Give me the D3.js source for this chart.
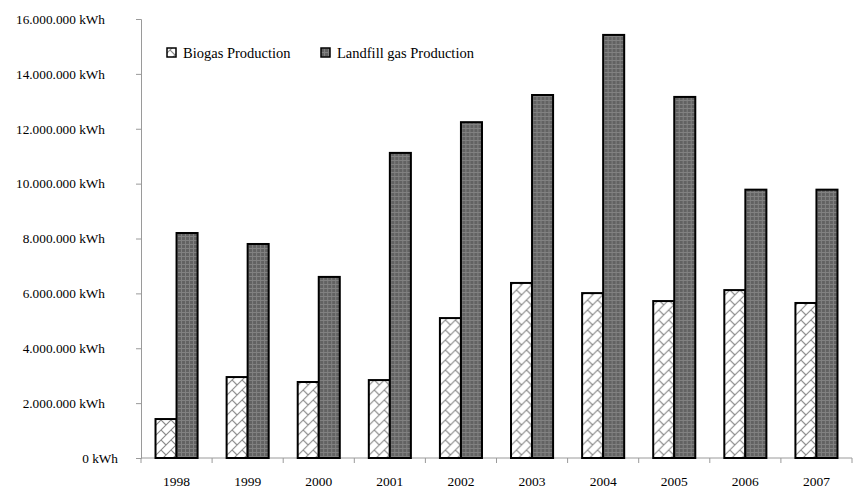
<!DOCTYPE html>
<html>
<head>
<meta charset="utf-8">
<script src="https://cdn.jsdelivr.net/npm/d3@7"></script>
<style>
  html, body { margin: 0; padding: 0; background: #fff; }
  svg text { font-family: "Liberation Serif", "DejaVu Serif", serif; fill: #000; }
</style>
</head>
<body>
<svg id="chart" width="857" height="488"></svg>
<script>
// Annual energy production (kWh)
const years = ["1998", "1999", "2000", "2001", "2002", "2003", "2004", "2005", "2006", "2007"];
const seriesNames = ["Biogas Production", "Landfill gas Production"];
const biogas = [1420000, 2950000, 2770000, 2840000, 5100000, 6380000, 6010000, 5720000, 6120000, 5650000];
const landfill = [8200000, 7800000, 6600000, 11120000, 12240000, 13230000, 15420000, 13160000, 9780000, 9780000];
const yTicks = [0, 2000000, 4000000, 6000000, 8000000, 10000000, 12000000, 14000000, 16000000];

const svg = d3.select("#chart");
const margin = { left: 141, right: 5, top: 19, bottom: 30 };
const W = 857, H = 488;

const x = d3.scaleBand().domain(years).range([margin.left, W - margin.right]).paddingInner(0).paddingOuter(0);
const xs = d3.scaleBand().domain(seriesNames).range([0, x.bandwidth()]).paddingInner(0).paddingOuter(0.69);
const y = d3.scaleLinear().domain([0, 16000000]).range([H - margin.bottom, margin.top]);

const locale = d3.formatLocale({ decimal: ",", thousands: ".", grouping: [3], currency: ["", ""] });
const fmt = locale.format(",");

// Fill patterns
const defs = svg.append("defs");
const pb = defs.append("pattern").attr("id", "brick").attr("patternUnits", "userSpaceOnUse")
  .attr("width", 10).attr("height", 10);
pb.append("rect").attr("width", 10).attr("height", 10).attr("fill", "#fff");
pb.append("path").attr("d", "M0,10 L10,0 M0,0 L5,5 M-1,1 L1,-1 M9,11 L11,9")
  .attr("stroke", "#8a8a8a").attr("stroke-width", 1.1).attr("fill", "none");

const pl = defs.append("pattern").attr("id", "grid").attr("patternUnits", "userSpaceOnUse")
  .attr("width", 4).attr("height", 4);
pl.append("rect").attr("width", 4).attr("height", 4).attr("fill", "#626262");
pl.append("rect").attr("x", 0).attr("y", 0).attr("width", 4).attr("height", 1).attr("fill", "#818181");
pl.append("rect").attr("x", 0).attr("y", 0).attr("width", 1).attr("height", 4).attr("fill", "#818181");

const fills = { "Biogas Production": "url(#brick)", "Landfill gas Production": "url(#grid)" };

// Y axis
const yAxis = d3.axisLeft(y).tickValues(yTicks).tickSize(5).tickPadding(31)
  .tickFormat(d => fmt(d) + " kWh");
const gy = svg.append("g").attr("transform", `translate(${margin.left},0)`).call(yAxis);
gy.select(".domain").attr("stroke", "#9a9a9a");
gy.selectAll(".tick line").attr("stroke", "#9a9a9a");
gy.selectAll(".tick text").attr("font-size", "13.3px")
  .attr("font-family", "Liberation Serif, serif")
  .attr("dx", d => d === 0 ? 13 : 0);

// X axis: ticks on category boundaries
const xBase = y(0);
const gx = svg.append("g");
gx.append("line").attr("x1", margin.left).attr("x2", W - margin.right)
  .attr("y1", xBase).attr("y2", xBase).attr("stroke", "#9a9a9a");
const bounds = years.map(d => x(d)).concat([x(years[years.length - 1]) + x.bandwidth()]);
gx.selectAll("line.tk").data(bounds).join("line").attr("class", "tk")
  .attr("x1", d => d).attr("x2", d => d).attr("y1", xBase).attr("y2", xBase + 5)
  .attr("stroke", "#9a9a9a");
gx.selectAll("text").data(years).join("text")
  .attr("x", d => x(d) + x.bandwidth() / 2).attr("y", xBase + 28)
  .attr("text-anchor", "middle").attr("font-size", "13.5px").text(d => d);

// Bars
const rows = years.map((yr, i) => ({ year: yr, values: [
  { key: seriesNames[0], value: biogas[i] },
  { key: seriesNames[1], value: landfill[i] }
] }));
const groups = svg.append("g").selectAll("g").data(rows).join("g")
  .attr("transform", d => `translate(${x(d.year)},0)`);
groups.selectAll("rect").data(d => d.values).join("rect")
  .attr("x", d => xs(d.key))
  .attr("y", d => y(d.value))
  .attr("width", xs.bandwidth())
  .attr("height", d => y(0) - y(d.value))
  .attr("fill", d => fills[d.key])
  .attr("stroke", "#000").attr("stroke-width", 2);

// Legend
const legendItems = [
  { key: seriesNames[0], x: 167 },
  { key: seriesNames[1], x: 321 }
];
const lg = svg.append("g");
legendItems.forEach(it => {
  lg.append("rect").attr("x", it.x).attr("y", 48).attr("width", 9).attr("height", 9)
    .attr("fill", fills[it.key]).attr("stroke", "#000").attr("stroke-width", 1.5);
  lg.append("text").attr("x", it.x + 16).attr("y", 58).attr("font-size", "14.5px").text(it.key);
});
</script>
</body>
</html>
